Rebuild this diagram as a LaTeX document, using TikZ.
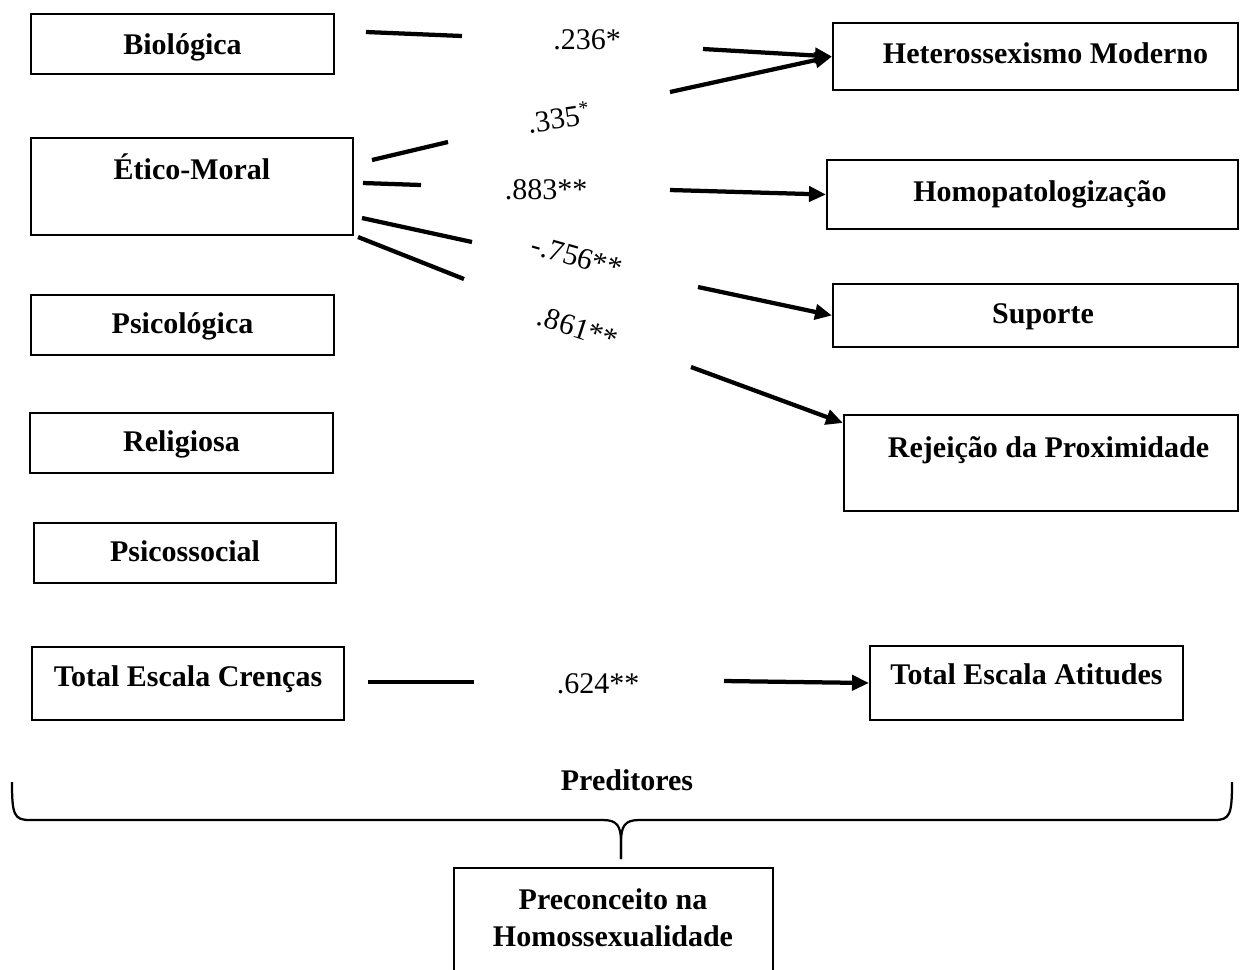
\documentclass[tikz,border=0pt]{standalone}
\usepackage{fontspec}
\setmainfont{Liberation Serif}
\usetikzlibrary{arrows.meta}
\begin{document}
\begin{tikzpicture}[x=0.4pt,y=-0.4pt,
  box/.style={draw, line width=0.8pt, inner xsep=0pt, inner ysep=0pt, anchor=north west,
    font=\bfseries\fontsize{12}{14.4}\selectfont},
  seg/.style={line width=1.7pt},
  arr/.style={line width=1.7pt, -{Triangle[length=6.8pt,width=6pt]}},
  coef/.style={font=\fontsize{12}{14.4}\selectfont, inner sep=0pt},
  brace/.style={line width=0.9pt}]
\clip (0,0) rectangle (1245,969);
% predictor boxes
\node[box, minimum width=121.2pt, text height=16pt, text depth=8pt] (bio) at (30,13) {Biológica};
\node[box, minimum width=128.8pt, text height=16.4pt, text depth=22.4pt] (etico) at (30,137) {Ético-Moral};
\node[box, minimum width=121.2pt, text height=15.2pt, text depth=8.8pt] (psic) at (30,294) {Psicológica};
\node[box, minimum width=121.2pt, text height=15.2pt, text depth=8.8pt] (relig) at (29,412) {Religiosa};
\node[box, minimum width=120.8pt, text height=15.2pt, text depth=8.8pt] (psoc) at (33,522) {Psicossocial};
\node[box, minimum width=124.8pt, text height=15.6pt, text depth=13.6pt] (cren) at (31,646) {Total Escala Crenças};
% outcome boxes
\node[box, minimum width=162pt, text height=16pt, text depth=10.8pt] (het) at (832,22) {\hspace*{8pt}Heterossexismo Moderno};
\node[box, minimum width=164.4pt, text height=16.4pt, text depth=11.2pt] (homo) at (826,159) {\hspace*{6pt}Homopatologização};
\node[box, minimum width=162pt, text height=15.6pt, text depth=9.6pt] (sup) at (832,283) {\hspace*{6pt}Suporte};
\node[box, minimum width=157.6pt, text height=16.8pt, text depth=21.6pt] (rej) at (843,414) {\hspace*{6pt}Rejeição da Proximidade};
\node[box, minimum width=125.2pt, text height=15.2pt, text depth=14.4pt] (ati) at (869,645) {Total Escala Atitudes};
% Biologica -> Heterossexismo
\coordinate (s1a) at (366,32); \coordinate (s1b) at (462,36);
\draw[seg] (s1a) -- (s1b);
\node[coef] (c1) at (587,40) {.236*};
\coordinate (a1) at (703,49);
\draw[arr] (a1) -- (het.west);
% Etico -> Heterossexismo
\coordinate (s2a) at (372,160); \coordinate (s2b) at (448,142);
\draw[seg] (s2a) -- (s2b);
\node[coef, rotate=8] (c2) at (559,117) {.335\textsuperscript{*}};
\coordinate (a2) at (670,92);
\draw[arr] (a2) -- (het.west);
% Etico -> Homopatologizacao
\coordinate (s3a) at (363,183); \coordinate (s3b) at (421,185);
\draw[seg] (s3a) -- (s3b);
\node[coef] (c3) at (546,190) {.883**};
\coordinate (a3) at (670,190);
\draw[arr] (a3) -- (homo.west);
% Etico -> Suporte
\coordinate (s4a) at (362,218); \coordinate (s4b) at (472,242);
\draw[seg] (s4a) -- (s4b);
\node[coef, rotate=-16] (c4) at (577,257) {-.756**};
\coordinate (a4) at (698,287);
\draw[arr] (a4) -- (sup.west);
% Etico -> Rejeicao
\coordinate (s5a) at (358,237); \coordinate (s5b) at (464,279);
\draw[seg] (s5a) -- (s5b);
\node[coef, rotate=-18] (c5) at (578,328) {.861**};
\coordinate (a5) at (691,367);
\draw[arr] (a5) -- ([yshift=-3.6pt]rej.north west);
% Total Crencas -> Total Atitudes
\coordinate (s6a) at (368,682); \coordinate (s6b) at (474,682);
\draw[seg] (s6a) -- (s6b);
\node[coef] (c6) at (598,684) {.624**};
\coordinate (a6) at (724,681);
\draw[arr] (a6) -- (ati.west);
% brace
\node[font=\bfseries\fontsize{12}{14.4}\selectfont, inner sep=0pt] (pred) at (627,780) {Preditores};
\coordinate (bl) at (12,782);
\coordinate (br) at (1232,782);
\coordinate (bm) at (621,859);
\draw[brace] (bl) .. controls (12,815) and (14,820) .. (30,820) -- (603,820)
  .. controls (617,820) and (621,826) .. (621,842) -- (bm);
\draw[brace] (bm) -- (621,842) .. controls (621,826) and (625,820) .. (639,820)
  -- (1214,820) .. controls (1230,820) and (1232,815) .. (br);
% outcome box (bottom edge cut off)
\node[font=\bfseries\fontsize{12}{14.8}\selectfont, align=center, anchor=north,
  inner xsep=0pt, inner ysep=8pt, minimum width=127.2pt] (prec) at (613,868)
  {Preconceito na\\Homossexualidade};
\draw[line width=0.8pt] ([yshift=-40pt]prec.south west) -- (prec.north west)
  -- (prec.north east) -- ([yshift=-40pt]prec.south east);
\end{tikzpicture}
\end{document}
